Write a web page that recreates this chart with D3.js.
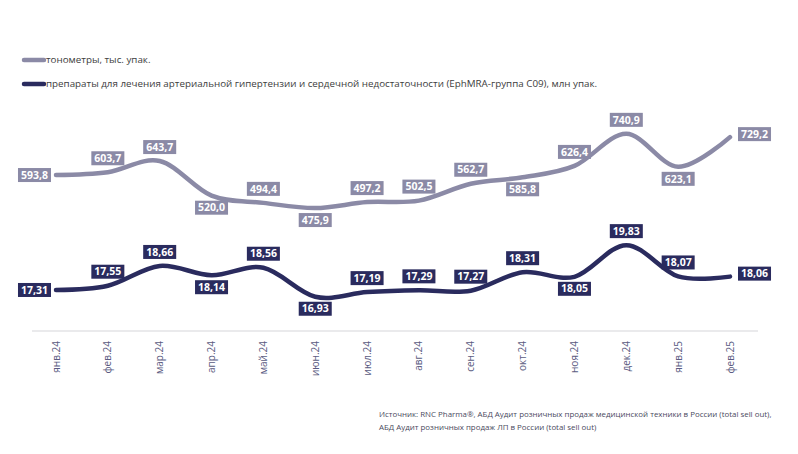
<!DOCTYPE html>
<html>
<head>
<meta charset="utf-8">
<script src="https://cdn.jsdelivr.net/npm/d3@7"></script>
<style>
  body { margin: 0; background: #fff; }
  svg { font-family: 'Open Sans', sans-serif; }
  .legend { font-size: 9.8px; fill: #3d3d3d; }
  .tick { font-size: 10px; fill: #5b5b82; }
  .val { font-size: 10.5px; font-weight: 700; fill: #fff; }
  .src { font-size: 7.9px; fill: #4a4a60; }
</style>
</head>
<body>
<div id="chart"></div>
<script>
// months on the x axis
const months = ['янв.24', 'фев.24', 'мар.24', 'апр.24', 'май.24', 'июн.24', 'июл.24',
  'авг.24', 'сен.24', 'окт.24', 'ноя.24', 'дек.24', 'янв.25', 'фев.25']

// тонометры, тыс. упак.
const tonometers = [593.8, 603.7, 643.7, 520.0, 494.4, 475.9, 497.2, 502.5, 562.7, 585.8, 626.4, 740.9, 623.1, 729.2]
// препараты C09, млн упак.
const drugs = [17.31, 17.55, 18.66, 18.14, 18.56, 16.93, 17.19, 17.29, 17.27, 18.31, 18.05, 19.83, 18.07, 18.06]

// where each data label sits relative to its point
const tonoPos = ['left', 'above', 'above', 'below', 'above', 'below', 'above', 'above', 'above', 'below', 'above', 'above', 'below', 'right']
const drugPos = ['left', 'above', 'above', 'below', 'above', 'below', 'above', 'above', 'above', 'above', 'below', 'above', 'above', 'right']

const legendText = ['тонометры, тыс. упак.',
  'препараты для лечения артериальной гипертензии и сердечной недостаточности (EphMRA-группа C09), млн упак.']
const sourceText = ['Источник: RNC Pharma®, АБД Аудит розничных продаж медицинской техники в России (total sell out),',
  'АБД Аудит розничных продаж ЛП в России (total sell out)']

const width = 798
const height = 454
const grayColor = '#8b8aa6'
const navyColor = '#2a2b5e'

const svg = d3.select('#chart')
  .append('svg')
  .attr('width', width)
  .attr('height', height)

const xScale = d3.scalePoint()
  .domain(months)
  .range([56, 730])

// two independent value axes (hidden)
const yTono = d3.scaleLinear()
  .domain([450, 750])
  .range([215.3, 131.3])

const yDrug = d3.scaleLinear()
  .domain([16.5, 20])
  .range([304.4, 242.1])

// axis line
svg.append('line')
  .attr('x1', 32).attr('x2', 758)
  .attr('y1', 331).attr('y2', 331)
  .attr('stroke', '#e3e3e6')
  .attr('stroke-width', 1.5)

// month labels, rotated
svg.append('g')
  .selectAll('text')
  .data(months)
  .enter()
  .append('text')
  .attr('class', 'tick')
  .attr('transform', d => `translate(${xScale(d) + 3.5}, 341) rotate(-90)`)
  .attr('text-anchor', 'end')
  .text(d => d)

const fmt = (v, digits) => v.toFixed(digits).replace('.', ',')

function drawSeries(values, yScale, color, pos, digits) {
  const line = d3.line()
    .x((d, i) => xScale(months[i]))
    .y(d => yScale(d))
    .curve(d3.curveCatmullRom.alpha(0))

  svg.append('path')
    .datum(values)
    .attr('d', line)
    .attr('fill', 'none')
    .attr('stroke', color)
    .attr('stroke-width', 4.5)
    .attr('stroke-linecap', 'round')

  const labels = svg.append('g')
    .selectAll('g')
    .data(values)
    .enter()
    .append('g')

  labels.each(function (d, i) {
    const g = d3.select(this)
    const text = g.append('text')
      .attr('class', 'val')
      .attr('text-anchor', 'middle')
      .attr('dy', '0.35em')
      .text(fmt(d, digits))
    const w = text.node().getComputedTextLength() + 6
    const h = 14
    let cx = xScale(months[i])
    let cy = yScale(d)
    if (pos[i] === 'above') cy -= 14
    if (pos[i] === 'below') cy += 12
    if (pos[i] === 'left') cx -= 5 + w / 2
    if (pos[i] === 'right') { cx += 8 + w / 2; cy -= 3 }
    g.insert('rect', 'text')
      .attr('x', -w / 2)
      .attr('y', -h / 2)
      .attr('width', w)
      .attr('height', h)
      .attr('fill', color)
    g.attr('transform', `translate(${cx}, ${cy})`)
  })
}

drawSeries(tonometers, yTono, grayColor, tonoPos, 1)
drawSeries(drugs, yDrug, navyColor, drugPos, 2)

// legend
const legend = svg.append('g')
  .attr('transform', 'translate(22, 60)')

legend.selectAll('line')
  .data([grayColor, navyColor])
  .enter()
  .append('line')
  .attr('x1', 2).attr('x2', 22)
  .attr('y1', (d, i) => i * 24)
  .attr('y2', (d, i) => i * 24)
  .attr('stroke', d => d)
  .attr('stroke-width', 4.5)
  .attr('stroke-linecap', 'round')

legend.selectAll('text')
  .data(legendText)
  .enter()
  .append('text')
  .attr('class', 'legend')
  .attr('x', 24)
  .attr('y', (d, i) => i * 24)
  .attr('dy', '0.35em')
  .text(d => d)

// source note
svg.append('g')
  .selectAll('text')
  .data(sourceText)
  .enter()
  .append('text')
  .attr('class', 'src')
  .attr('x', 379)
  .attr('y', (d, i) => 417 + i * 13)
  .text(d => d)
</script>
</body>
</html>
